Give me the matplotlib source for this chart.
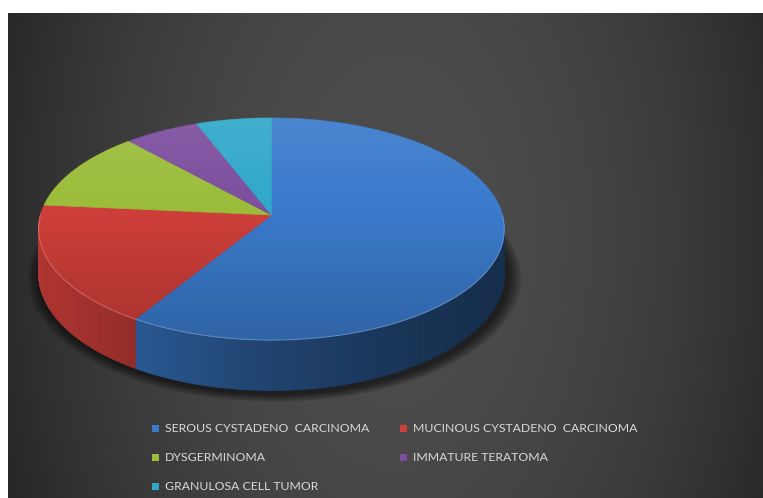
import numpy as np
import matplotlib
matplotlib.use('Agg')
import matplotlib.pyplot as plt
from matplotlib.patches import Polygon, Rectangle
from matplotlib.colors import to_rgb

# tumour types and number of cases
categories = ['SEROUS CYSTADENO  CARCINOMA', 'MUCINOUS CYSTADENO  CARCINOMA',
              'DYSGERMINOMA', 'IMMATURE TERATOMA', 'GRANULOSA CELL TUMOR']
counts = [10, 3, 2, 1, 1]
colors = ['#3b7bcc', '#cf3f3a', '#9cbd3c', '#7d4f9e', '#31a8ca']

W, H = 763, 498
fig = plt.figure(figsize=(W / 100, H / 100), dpi=100)
fig.patch.set_facecolor('white')
ax = fig.add_axes([0, 0, 1, 1])

# dark background panel, lighter in the middle
xs = np.linspace(8, W, 400)
ys = np.linspace(13, H, 300)
gx, gy = np.meshgrid(xs, ys)
d2 = ((gx - 395) / 420) ** 2 + ((gy - 230) / 700) ** 2
v = np.clip(0.30 - 0.15 * d2, 0.13, 1)
ax.imshow(np.dstack([v, v, v]), extent=[8, W, H, 13], aspect='auto',
          interpolation='bilinear', zorder=0)

# 3d pie geometry (screen pixels)
cx, cy = 271.5, 215
R, Rb = 231, 109.3
persp = 0.126
depth = 44


def proj(phi, z=0.0):
    X = np.cos(phi)
    Y = np.sin(phi)
    s = 1 / (1 + persp * Y)
    return cx + R * X * s, cy - Rb * Y * s + depth * z * s


fracs = np.array(counts) / sum(counts)
cum = np.concatenate([[0], np.cumsum(fracs)])
starts = np.deg2rad(90 - 360 * cum[:-1])
ends = np.deg2rad(90 - 360 * cum[1:])

# soft shadow under the pie
full = np.linspace(0, 2 * np.pi, 300)
bx, by = proj(full, 1.0)
for k in range(10, 0, -1):
    sc = 1 + 0.006 * k
    px = cx + (bx - cx) * sc + 3
    py = (by - 250) * sc + 250 + 3
    ax.add_patch(Polygon(np.column_stack([px, py]), closed=True, facecolor='black',
                         edgecolor='none', alpha=0.07, zorder=1))

# front walls, shaded darker towards the right
for c, a0, a1 in zip(colors, starts, ends):
    base = np.array(to_rgb(c))
    n = max(int(np.degrees(a0 - a1)), 2)
    phis = np.linspace(a0, a1, n + 1)
    for p0, p1 in zip(phis[:-1], phis[1:]):
        if np.sin((p0 + p1) / 2) > 0.03:
            continue
        x0, y0 = proj(p0)
        x1, y1 = proj(p1)
        x2, y2 = proj(p1, 1.0)
        x3, y3 = proj(p0, 1.0)
        xm = (x0 + x1) / 2
        f = 0.38 + 0.47 * np.clip((505 - xm) / 465, 0, 1) ** 1.5
        col = np.clip(base * f, 0, 1)
        ax.add_patch(Polygon([[x0, y0], [x1, y1], [x2, y2], [x3, y3]], closed=True,
                             facecolor=col, edgecolor=col, linewidth=0.6, zorder=2))

# top faces
for c, a0, a1 in zip(colors, starts, ends):
    phis = np.linspace(a0, a1, 200)
    tx, ty = proj(phis)
    pts = np.column_stack([np.r_[cx, tx], np.r_[cy, ty]])
    ax.add_patch(Polygon(pts, closed=True, facecolor=c, edgecolor=c,
                         linewidth=0.5, zorder=3))

# lighting over the top face: brighter at the back, darker at the front
tx, ty = proj(full)
top_clip = Polygon(np.column_stack([tx, ty]), closed=True, facecolor='none',
                   edgecolor='none', transform=ax.transData)
ax.add_patch(top_clip)
gyy = np.linspace(0, 1, 200)[:, None]
shade = np.zeros((200, 2, 4))
light = np.clip(0.35 - 0.9 * gyy, 0, 1)
dark = np.clip(1.1 * (gyy - 0.4), 0, 1) * 0.3
shade[..., :3] = np.where(light > 0, 1.0, 0.0)[..., None] * np.ones((200, 2, 3))
shade[..., 3] = np.where(light > 0, light * 0.25, dark)[:, :1].repeat(2, axis=1)
im = ax.imshow(shade, extent=[30, 515, 345, 112], aspect='auto',
               interpolation='bilinear', zorder=4)
im.set_clip_path(top_clip)

# rim highlight along the front edge
rim = np.linspace(np.pi, 2 * np.pi, 200)
rx, ry = proj(rim)
ax.plot(rx, ry, color='white', alpha=0.22, linewidth=0.8, zorder=5)

# legend
leg_pos = [(155, 428), (403, 428), (155, 457), (403, 457), (155, 486)]
for (lx, ly), name, c in zip(leg_pos, categories, colors):
    ax.add_patch(Rectangle((lx - 3.5, ly - 3.5), 7, 7, facecolor=c,
                           edgecolor='none', zorder=6))
    ax.text(lx + 10, ly, name, color='#d9d9d9', fontsize=8.8, family='Lato',
            va='center', ha='left', zorder=6)

ax.set_xlim(0, W)
ax.set_ylim(H, 0)
ax.axis('off')
fig.savefig('out.png', dpi=100, facecolor=fig.get_facecolor())
